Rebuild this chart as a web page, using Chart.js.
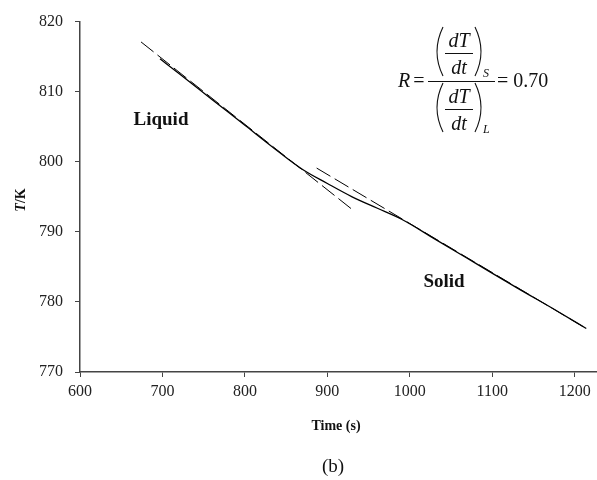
<!DOCTYPE html>
<html>
<head>
<meta charset="utf-8">
<script src="https://cdn.jsdelivr.net/npm/chart.js@4/dist/chart.umd.min.js"></script>
<style>
  html, body { margin: 0; padding: 0; background: #fff; }
  #c { display: block; }
</style>
</head>
<body>
<canvas id="c" width="597" height="480"></canvas>
<script>
// ---- data ----
const curveTime = [697, 720, 760, 800, 840, 870, 900, 930, 960, 990, 1030, 1080, 1130, 1180, 1214];
const curveTemp = [814.7, 812.6, 808.9, 805.2, 801.5, 798.9, 796.9, 795.0, 793.4, 791.8, 789.0, 785.5, 782.0, 778.6, 776.2];
const liquidTangentTime = [674, 930];
const liquidTangentTemp = [817.1, 793.2];
const solidTangentTime = [887, 1214];
const solidTangentTemp = [799.1, 776.2];
const xTickValues = [600, 700, 800, 900, 1000, 1100, 1200];
const yTickValues = [770, 780, 790, 800, 810, 820];

const toPts = (xs, ys) => xs.map((x, i) => ({ x: x, y: ys[i] }));

const SERIF = "'Liberation Serif', 'Times New Roman', serif";
const AXIS = '#444';

const annotations = {
  id: 'annotations',
  afterDraw(chart) {
    const ctx = chart.ctx;
    ctx.save();
    ctx.fillStyle = '#111';
    ctx.strokeStyle = '#111';
    ctx.textBaseline = 'middle';
    ctx.textAlign = 'center';

    // Axis titles
    ctx.font = 'bold 14px ' + SERIF;
    ctx.fillText('Time (s)', 336, 426);
    ctx.save();
    ctx.translate(21, 200);
    ctx.rotate(-Math.PI / 2);
    ctx.font = 'bold italic 14px ' + SERIF;
    const wT = ctx.measureText('T').width;
    ctx.font = 'bold 14px ' + SERIF;
    const wK = ctx.measureText('/K').width;
    const start = -(wT + wK) / 2;
    ctx.textAlign = 'left';
    ctx.font = 'bold italic 14px ' + SERIF;
    ctx.fillText('T', start, 0);
    ctx.font = 'bold 14px ' + SERIF;
    ctx.fillText('/K', start + wT, 0);
    ctx.restore();

    // caption
    ctx.font = '19px ' + SERIF;
    ctx.fillText('(b)', 333, 467);

    // region labels
    ctx.font = 'bold 19px ' + SERIF;
    ctx.fillText('Liquid', 161, 120);
    ctx.fillText('Solid', 444, 282);

    // formula
    ctx.textBaseline = 'alphabetic';
    ctx.font = 'italic 20px ' + SERIF;
    ctx.fillText('R', 404, 87);
    ctx.font = '20px ' + SERIF;
    ctx.fillText('=', 419, 87);
    ctx.textAlign = 'left';
    ctx.fillText('= 0.70', 497, 87);
    ctx.lineWidth = 1;
    ctx.beginPath();
    ctx.moveTo(428, 81.5); ctx.lineTo(495, 81.5);
    ctx.stroke();

    function group(bar, sub) {
      ctx.textAlign = 'center';
      ctx.font = 'italic 20px ' + SERIF;
      ctx.fillText('dT', 459, bar - 6);
      ctx.fillText('dt', 459, bar + 21);
      ctx.lineWidth = 1;
      ctx.beginPath();
      ctx.moveTo(445, bar + 0.5); ctx.lineTo(473, bar + 0.5);
      ctx.stroke();
      const top = bar - 26, bot = bar + 23;
      ctx.lineWidth = 1.1;
      ctx.beginPath();
      ctx.moveTo(443, top);
      ctx.quadraticCurveTo(431, (top + bot) / 2, 443, bot);
      ctx.stroke();
      ctx.beginPath();
      ctx.moveTo(475, top);
      ctx.quadraticCurveTo(487, (top + bot) / 2, 475, bot);
      ctx.stroke();
      ctx.font = 'italic 12px ' + SERIF;
      ctx.textAlign = 'left';
      ctx.fillText(sub, 483, bot + 1);
    }
    group(53, 'S');
    group(109, 'L');
    ctx.restore();
  }
};

new Chart(document.getElementById('c'), {
  type: 'scatter',
  data: {
    datasets: [
      {
        data: toPts(curveTime, curveTemp),
        showLine: true,
        borderColor: '#000',
        borderWidth: 1.3,
        pointRadius: 0,
        cubicInterpolationMode: 'monotone',
        fill: false
      },
      {
        data: toPts(liquidTangentTime, liquidTangentTemp),
        showLine: true,
        borderColor: '#000',
        borderWidth: 1,
        borderDash: [16, 5],
        pointRadius: 0,
        fill: false
      },
      {
        data: toPts(solidTangentTime, solidTangentTemp),
        showLine: true,
        borderColor: '#000',
        borderWidth: 1,
        borderDash: [16, 5],
        pointRadius: 0,
        fill: false
      }
    ]
  },
  options: {
    responsive: false,
    devicePixelRatio: 1,
    animation: false,
    layout: { padding: { top: 15, right: 0, left: 0, bottom: 0 } },
    plugins: { legend: { display: false }, tooltip: { enabled: false } },
    scales: {
      x: {
        type: 'linear',
        min: 600,
        max: 1227,
        afterBuildTicks(scale) { scale.ticks = xTickValues.map(v => ({ value: v })); },
        afterFit(scale) { scale.height = 108; },
        grid: { display: true, drawOnChartArea: false, drawTicks: true, tickLength: 5, color: AXIS },
        border: { display: true, color: AXIS, width: 1.5 },
        ticks: {
          color: '#222',
          font: { family: SERIF, size: 16 },
          padding: 5,
          maxRotation: 0,
          autoSkip: false,
          callback: v => String(v)
        }
      },
      y: {
        type: 'linear',
        min: 770,
        max: 820,
        afterBuildTicks(scale) { scale.ticks = yTickValues.map(v => ({ value: v })); },
        afterFit(scale) { scale.width = 80; },
        grid: { display: true, drawOnChartArea: false, drawTicks: true, tickLength: 5, color: AXIS },
        border: { display: true, color: AXIS, width: 1.5 },
        ticks: {
          color: '#222',
          font: { family: SERIF, size: 16 },
          padding: 12,
          callback: v => String(v)
        }
      }
    }
  },
  plugins: [annotations]
});
</script>
</body>
</html>
